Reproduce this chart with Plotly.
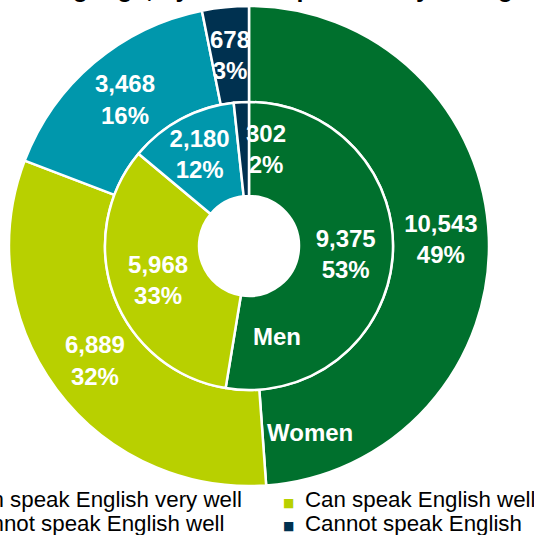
import math
import plotly.graph_objects as go

categories = ["Can speak English very well", "Can speak English well",
              "Cannot speak English well", "Cannot speak English"]
women = [10543, 6889, 3468, 678]
men = [9375, 5968, 2180, 302]
colors = ["#00702D", "#B8D000", "#0097AC", "#003150"]
series_names = ["Women", "Men"]
title_text = "Other language, by sex and proficiency in English"

W, H = 534, 535
L, R, T, B = 9, 45, 6, 49
pw, ph = W - L - R, H - T - B
HOLE_OUT, HOLE_IN, IN_FRAC = 0.6, 0.347, 0.6

def px(x):
    return (x - L) / pw

def py(y):
    return (H - B - y) / ph

FONT = "Liberation Sans, Arial, sans-serif"
label_font = dict(family=FONT, size=24, color="white")
tmpl = "<b>%{value:,}<br>%{percent:.0%}</b>"

# small slices get their labels placed as annotations at the ring middle
tpos_w = ["inside"] * (len(women) - 1) + ["none"]
tpos_m = ["inside"] * (len(men) - 1) + ["none"]

fig = go.Figure()
fig.add_trace(go.Pie(
    labels=categories, values=women, name=series_names[0],
    hole=HOLE_OUT, sort=False, direction="clockwise", rotation=0,
    marker=dict(colors=colors, line=dict(color="white", width=2.5)),
    texttemplate=tmpl, textposition=tpos_w, insidetextorientation="horizontal",
    textfont=label_font, domain=dict(x=[0, 1], y=[0, 1]), showlegend=False,
    hoverinfo="label+value+percent",
))
c0, c1 = (1 - IN_FRAC) / 2, (1 + IN_FRAC) / 2
fig.add_trace(go.Pie(
    labels=categories, values=men, name=series_names[1],
    hole=HOLE_IN, sort=False, direction="clockwise", rotation=0,
    marker=dict(colors=colors, line=dict(color="white", width=2.5)),
    texttemplate=tmpl, textposition=tpos_m, insidetextorientation="horizontal",
    textfont=label_font, domain=dict(x=[c0, c1], y=[c0, c1]), showlegend=False,
    hoverinfo="label+value+percent",
))

ann = []

def slice_label(vals, idx, r_out_frac, hole, xanchor="center"):
    total = sum(vals)
    mid = (sum(vals[:idx]) + vals[idx] / 2) / total
    ang = 2 * math.pi * mid
    rad = 0.5 * r_out_frac * (1 + hole) / 2  # paper units (square plot area)
    x = 0.5 + rad * math.sin(ang)
    y = 0.5 + rad * math.cos(ang)
    pct = round(100 * vals[idx] / total)
    return dict(text="<b>{:,}<br>{}%</b>".format(vals[idx], pct), x=x, y=y,
                xref="paper", yref="paper", showarrow=False, font=label_font,
                xanchor=xanchor, yanchor="middle")

ann.append(slice_label(women, len(women) - 1, 1.0, HOLE_OUT))
ann.append(slice_label(men, len(men) - 1, IN_FRAC, HOLE_IN, xanchor="left"))

# series names
ann.append(dict(text="<b>%s</b>" % series_names[0], x=px(310), y=py(432), xref="paper", yref="paper",
                showarrow=False, font=label_font, xanchor="center", yanchor="middle"))
ann.append(dict(text="<b>%s</b>" % series_names[1], x=px(277), y=py(336), xref="paper", yref="paper",
                showarrow=False, font=label_font, xanchor="center", yanchor="middle"))
# title (mostly above the visible area)
ann.append(dict(text="<b>" + title_text + "</b>", x=px(-39), y=py(-12), xref="paper", yref="paper",
                showarrow=False, xanchor="left", yanchor="middle",
                font=dict(family=FONT, size=25, color="black")))
# legend
leg_font = dict(family=FONT, size=22.3, color="black")
text_pos = [(-39, 500), (303, 500), (-39, 523), (303, 523)]
for cat, col, (lx, ly) in zip(categories, colors, text_pos):
    ann.append(dict(text="■", x=px(lx - 15), y=py(ly + 3), xref="paper", yref="paper",
                    showarrow=False, xanchor="center", yanchor="middle",
                    font=dict(family="DejaVu Sans", size=12, color=col)))
    ann.append(dict(text=cat, x=px(lx), y=py(ly), xref="paper", yref="paper", showarrow=False,
                    xanchor="left", yanchor="middle", font=leg_font))

fig.update_layout(
    width=W, height=H,
    margin=dict(l=L, r=R, t=T, b=B, autoexpand=False),
    paper_bgcolor="white", plot_bgcolor="white",
    uniformtext=dict(minsize=24, mode="show"),
    annotations=ann,
    font=dict(family=FONT),
)
fig.write_html("out.html", config={"displayModeBar": False},
               post_script="document.body.style.margin='0';")
